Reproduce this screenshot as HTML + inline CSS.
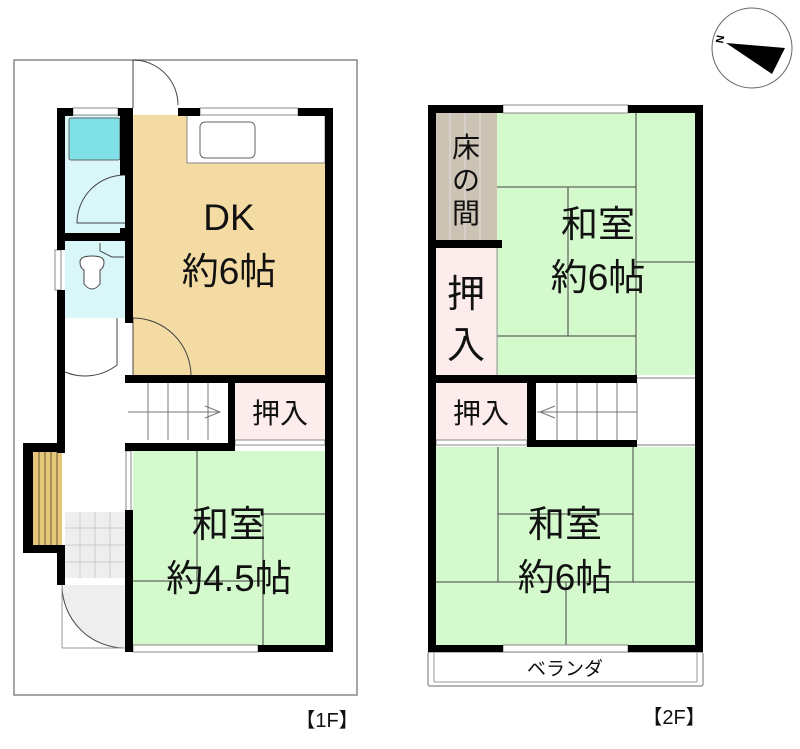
<!DOCTYPE html>
<html><head><meta charset="utf-8"><style>
html,body{margin:0;padding:0;background:#fff;width:800px;height:749px;overflow:hidden}
text{font-family:"Liberation Sans","Noto Sans CJK JP",sans-serif}
</style></head><body>
<svg width="800" height="749" viewBox="0 0 800 749" xmlns="http://www.w3.org/2000/svg">
<rect x="14" y="60" width="343" height="635" fill="#fff" stroke="#888" stroke-width="1.5"/>
<rect x="65" y="115" width="60" height="118" fill="#d9f7f9"/>
<rect x="69" y="118" width="51" height="42" rx="2" fill="#7fe0e8" stroke="#666" stroke-width="1"/>
<rect x="65" y="240" width="60" height="78" fill="#d9f7f9"/>
<rect x="133" y="115" width="192" height="260" fill="#f4dba4"/>
<rect x="187" y="115" width="138" height="48" fill="#fff" stroke="#888" stroke-width="1"/>
<rect x="200" y="122" width="55" height="36" rx="5" fill="#fff" stroke="#666" stroke-width="1"/>
<rect x="235" y="383" width="90" height="57" fill="#fdecec"/>
<rect x="133" y="451" width="192" height="194" fill="#d3f9cc"/>
<rect x="33" y="452" width="29" height="93" fill="#e6c678"/>
<g stroke="#6a5a30" stroke-width="1"><line x1="39" y1="452" x2="39" y2="545"/><line x1="45" y1="452" x2="45" y2="545"/><line x1="51" y1="452" x2="51" y2="545"/><line x1="57" y1="452" x2="57" y2="545"/></g>
<rect x="65" y="512" width="60" height="66" fill="#eee"/>
<g stroke="#ccc" stroke-width="1"><line x1="80" y1="512" x2="80" y2="578"/><line x1="95" y1="512" x2="95" y2="578"/><line x1="110" y1="512" x2="110" y2="578"/><line x1="65" y1="528" x2="125" y2="528"/><line x1="65" y1="545" x2="125" y2="545"/><line x1="65" y1="562" x2="125" y2="562"/></g>
<rect x="62" y="585" width="63" height="63" fill="#eee"/>
<path d="M62 585 A63 63 0 0 0 125 648 L62 648Z" fill="#fff" stroke="none"/>
<path d="M62 585 A63 63 0 0 0 125 648" fill="none" stroke="#444" stroke-width="1"/>
<line x1="62" y1="648" x2="125" y2="648" stroke="#999"/>
<line x1="62" y1="585" x2="62" y2="648" stroke="#999"/>
<g stroke="#444" stroke-width="1" fill="none">
<line x1="197" y1="451" x2="197" y2="581"/><line x1="133" y1="581" x2="263" y2="581"/>
<line x1="263" y1="514" x2="263" y2="645"/><line x1="263" y1="514" x2="325" y2="514"/>
</g>
<g stroke="#777" stroke-width="1"><line x1="148" y1="383" x2="148" y2="440"/><line x1="168" y1="383" x2="168" y2="440"/><line x1="188" y1="383" x2="188" y2="440"/><line x1="208" y1="383" x2="208" y2="440"/><line x1="128" y1="412" x2="220" y2="412"/><polyline points="205,406 220,412 205,418" fill="none"/></g>
<g stroke="#444" stroke-width="1" fill="none">
<path d="M133 60 L133 108 M133 60 A45 45 0 0 1 178 105"/>
<path d="M125 175 A48 48 0 0 0 77 223 L125 223"/>
<path d="M133 318 L133 375 M133 318 A58 58 0 0 1 191 375"/>
<path d="M117 318 L117 365 A52 52 0 0 1 65 372"/>
<line x1="127" y1="183" x2="127" y2="228" stroke="#aaa"/>
</g>
<path d="M80 262 q0 -6 12 -6 q12 0 12 6 q0 6 -4 8 l0 14 q-8 10 -16 0 l0 -14 q-4 -2 -4 -8z" fill="#fff" stroke="#444"/>
<path d="M100 243 l0 8 l12 6 l12 0" fill="none" stroke="#444"/>
<g fill="#fff" stroke="#888" stroke-width="1">
<rect x="73" y="108" width="45" height="7"/><rect x="200" y="108" width="98" height="7"/>
<rect x="133" y="645" width="125" height="7"/><rect x="55" y="250" width="6" height="40"/>
<rect x="235" y="440" width="90" height="5"/><rect x="126" y="451" width="5" height="60"/>
</g>
<g fill="#000">
<rect x="57" y="108" width="16" height="8"/><rect x="118" y="108" width="15" height="8"/><rect x="178" y="108" width="22" height="8"/><rect x="298" y="108" width="35" height="8"/>
<rect x="57" y="108" width="8" height="142"/><rect x="57" y="290" width="8" height="163"/>
<rect x="23" y="443" width="42" height="9"/><rect x="23" y="443" width="10" height="107"/><rect x="23" y="545" width="42" height="8"/><rect x="57" y="545" width="8" height="40"/>
<rect x="120" y="108" width="13" height="8"/><rect x="125" y="108" width="8" height="215"/><rect x="120" y="108" width="5" height="67"/><rect x="120" y="228" width="5" height="12"/>
<rect x="65" y="233" width="65" height="8"/>
<rect x="325" y="108" width="8" height="544"/>
<rect x="125" y="375" width="208" height="8"/><rect x="228" y="383" width="7" height="65"/><rect x="125" y="443" width="110" height="8"/>
<rect x="125" y="510" width="8" height="142"/><rect x="258" y="645" width="75" height="7"/>
</g>
<rect x="436" y="113" width="61" height="127" fill="#cdc3b5"/>
<g stroke="#ddd" stroke-width="1"><line x1="450" y1="113" x2="450" y2="240"/><line x1="465" y1="113" x2="465" y2="240"/><line x1="480" y1="113" x2="480" y2="240"/></g>
<rect x="436" y="248" width="60" height="127" fill="#fdecec"/>
<rect x="497" y="113" width="198" height="262" fill="#d3f9cc"/>
<rect x="436" y="383" width="91" height="57" fill="#fdecec"/>
<rect x="436" y="447" width="259" height="198" fill="#d3f9cc"/>
<g stroke="#444" stroke-width="1">
<line x1="636" y1="113" x2="636" y2="375"/><line x1="497" y1="187" x2="636" y2="187"/><line x1="568" y1="187" x2="568" y2="336"/><line x1="636" y1="262" x2="695" y2="262"/><line x1="497" y1="336" x2="636" y2="336"/>
<line x1="498" y1="447" x2="498" y2="582"/><line x1="633" y1="447" x2="633" y2="582"/><line x1="498" y1="514" x2="633" y2="514"/><line x1="436" y1="582" x2="695" y2="582"/><line x1="566" y1="582" x2="566" y2="645"/>
</g>
<line x1="497" y1="248" x2="497" y2="375" stroke="#888"/>
<g stroke="#777" stroke-width="1"><line x1="557" y1="383" x2="557" y2="440"/><line x1="577" y1="383" x2="577" y2="440"/><line x1="597" y1="383" x2="597" y2="440"/><line x1="617" y1="383" x2="617" y2="440"/><line x1="537" y1="412" x2="637" y2="412"/><polyline points="555,406 540,412 555,418" fill="none"/><line x1="637" y1="383" x2="637" y2="440"/><line x1="637" y1="378" x2="695" y2="378"/><line x1="637" y1="445" x2="695" y2="445"/></g>
<rect x="428" y="652" width="275" height="34" rx="2" fill="#fff" stroke="#888" stroke-width="1.2"/>
<line x1="434" y1="652" x2="434" y2="682" stroke="#999"/><line x1="697" y1="652" x2="697" y2="682" stroke="#999"/><line x1="434" y1="682" x2="697" y2="682" stroke="#999"/>
<g fill="#fff" stroke="#888" stroke-width="1"><rect x="503" y="105" width="125" height="8"/><rect x="503" y="645" width="125" height="7"/><rect x="436" y="440" width="91" height="5"/></g>
<g fill="#000">
<rect x="428" y="105" width="75" height="8"/><rect x="628" y="105" width="75" height="8"/>
<rect x="428" y="105" width="8" height="547"/><rect x="695" y="105" width="8" height="547"/>
<rect x="428" y="645" width="75" height="7"/><rect x="628" y="645" width="75" height="7"/>
<rect x="436" y="240" width="66" height="8"/>
<rect x="436" y="375" width="201" height="8"/><rect x="527" y="383" width="9" height="64"/><rect x="527" y="440" width="110" height="7"/>
</g>
<circle cx="752" cy="48" r="40" fill="#fff" stroke="#666" stroke-width="1"/>
<polygon points="726,43 785,48 772,74" fill="#000"/>
<text x="719" y="47" font-size="11" font-weight="bold" transform="rotate(-80 719 43)">N</text>
<g font-size="37" fill="#111" text-anchor="middle">
<text x="229" y="230">DK</text><text x="229" y="284">約6帖</text>
<text x="229" y="537">和室</text><text x="229" y="591">約4.5帖</text>
<text x="598" y="237">和室</text><text x="598" y="290">約6帖</text>
<text x="565" y="537">和室</text><text x="565" y="590">約6帖</text>
</g>
<g font-size="28" fill="#111" text-anchor="middle">
<text x="280" y="423">押入</text><text x="481" y="423">押入</text>
<text x="466" y="157">床</text><text x="466" y="190">の</text><text x="466" y="223">間</text>
</g>
<g font-size="38" fill="#111" text-anchor="middle"><text x="466" y="307">押</text><text x="466" y="358">入</text></g>
<text x="565" y="675" font-size="19" text-anchor="middle" fill="#111">ベランダ</text>
<text x="327" y="727" font-size="20" text-anchor="middle" fill="#111">【1F】</text>
<text x="674" y="724" font-size="20" text-anchor="middle" fill="#111">【2F】</text>
</svg>
</body></html>
